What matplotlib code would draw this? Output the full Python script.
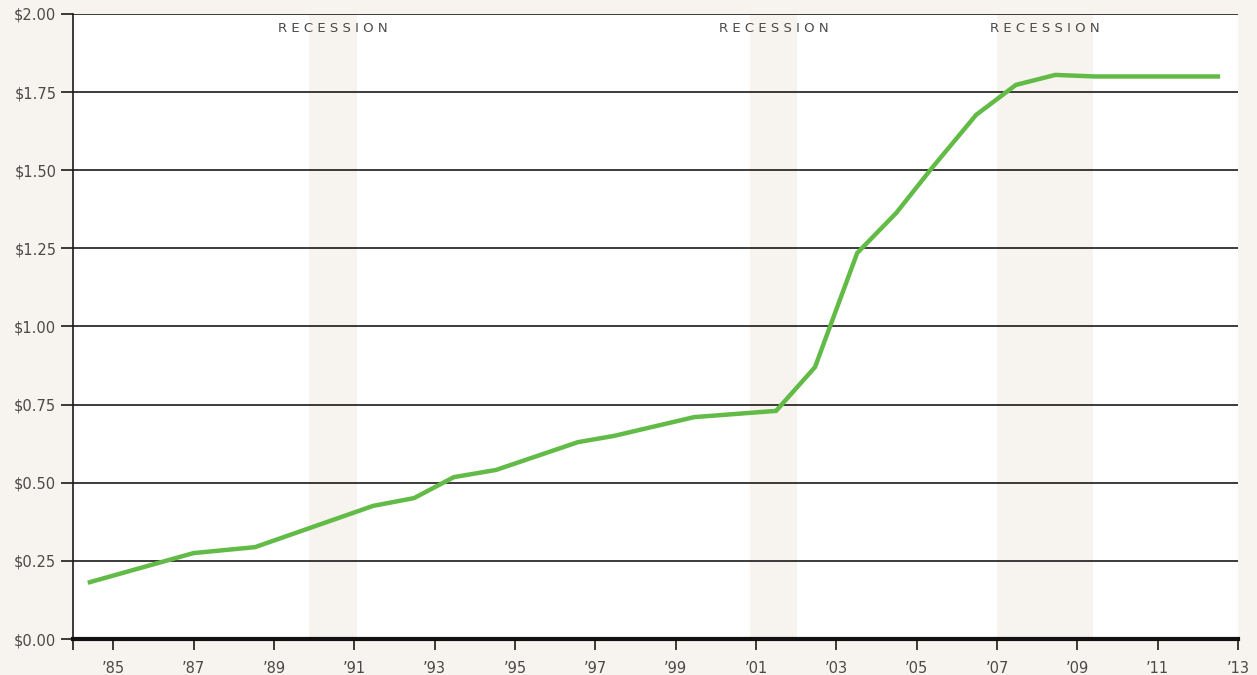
import matplotlib
matplotlib.use("Agg")
from matplotlib import pyplot as plt
import numpy as np

# values
years = [1984.42, 1987.0, 1988.53, 1991.47, 1992.49, 1993.48, 1994.53, 1996.57,
         1997.47, 1999.46, 2001.5, 2002.47, 2003.52, 2004.49, 2005.38, 2006.48,
         2007.47, 2008.45, 2009.44, 2012.5]
price = [0.182, 0.275, 0.294, 0.426, 0.451, 0.518, 0.541, 0.630,
         0.650, 0.710, 0.730, 0.870, 1.235, 1.363, 1.507, 1.677,
         1.773, 1.805, 1.800, 1.800]

recessions = [(1989.87, 1991.07), (2000.85, 2002.02), (2007.0, 2009.39)]

tick_years = list(range(1985, 2014, 2))
tick_labels = ["\u2019" + str(y)[2:] for y in tick_years]
y_ticks = [0.0, 0.25, 0.5, 0.75, 1.0, 1.25, 1.5, 1.75, 2.0]
y_labels = ["${:.2f}".format(v) for v in y_ticks]

bg = "#f7f3ee"
green = "#62bb46"
txt = "#4a4a4a"

fig = plt.figure(figsize=(12.57, 6.75), dpi=100, facecolor=bg)
ax = fig.add_axes([0.0581, 0.0533, 0.9268, 0.926])
ax.set_facecolor("white")

for a, b in recessions:
    ax.axvspan(a, b, color=bg, lw=0, zorder=0)
    ax.text((a + b) / 2, 1.952, "R E C E S S I O N", ha="center", va="center",
            fontsize=9.5, color=txt, zorder=3)

for v in y_ticks[1:]:
    ax.axhline(v, color="#1a1a1a", lw=1.2, zorder=1)

ax.plot(years, price, color=green, lw=3.2, solid_joinstyle="miter", zorder=4)

ax.set_xlim(1984, 2013)
ax.set_ylim(0, 2.0)

ax.set_xticks([1984] + tick_years)
ax.set_xticklabels([""] + tick_labels)
ax.set_yticks(y_ticks)
ax.set_yticklabels(y_labels)

for s in ["top", "right"]:
    ax.spines[s].set_visible(False)
ax.spines["left"].set_color("#1a1a1a")
ax.spines["left"].set_linewidth(1.2)
ax.spines["bottom"].set_color("#111111")
ax.spines["bottom"].set_linewidth(3)
ax.spines["bottom"].set_zorder(5)

ax.tick_params(axis="x", length=8, width=1.2, color="#1a1a1a", labelsize=10.5,
               labelcolor=txt, pad=8)
ax.tick_params(axis="y", length=9, width=1.2, color="#1a1a1a", labelsize=10.5,
               labelcolor=txt, pad=3)

fig.savefig("out.png", dpi=100, facecolor=bg)
